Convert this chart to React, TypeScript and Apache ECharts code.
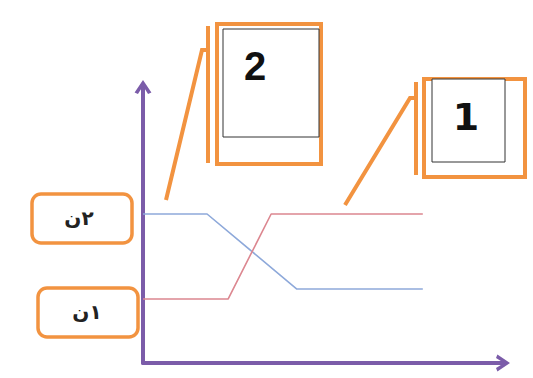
import React, { useEffect, useRef } from "react";
import * as echarts from "echarts";

const blueX = [0, 17.7, 42.5, 77.3];
const blueY = [53.6, 53.6, 26.6, 26.6];
const redX = [0, 23.5, 35.4, 77.3];
const redY = [23, 23, 53.6, 53.6];
const levelLabels = ["ن۲", "ن۱"];
const calloutLabels = ["2", "1"];

const ORANGE = "#F29340";
const PURPLE = "#7B5CA9";
const CHEVRON = "path://M0,9 L6,0 L12,9 L9.6,10 L6,4.2 L2.4,10 Z";

export default function App() {
  const ref = useRef<HTMLDivElement>(null);
  useEffect(() => {
    document.body.style.margin = "0";
    const chart = echarts.init(ref.current!, null, { renderer: "svg" });
    const ltr = (s: string) => "\u202D" + s + "\u202C";
    const axisLine = {
      show: true,
      lineStyle: { color: PURPLE, width: 4 },
      symbol: ["none", CHEVRON],
      symbolSize: [17, 14],
      symbolOffset: [0, -2],
    };
    chart.setOption({
      animation: false,
      backgroundColor: "#ffffff",
      grid: { left: 143, right: 28, top: 85, bottom: 15, containLabel: false, outerBoundsMode: "none" },
      xAxis: {
        type: "value", min: 0, max: 100, axisLine,
        axisTick: { show: false }, axisLabel: { show: false }, splitLine: { show: false },
      },
      yAxis: {
        type: "value", min: 0, max: 100, axisLine,
        axisTick: { show: false }, axisLabel: { show: false }, splitLine: { show: false },
      },
      series: [
        {
          type: "line", data: blueX.map((x, i) => [x, blueY[i]]), showSymbol: false,
          lineStyle: { color: "#8EA9DA", width: 1.6 }, z: 3,
        },
        {
          type: "line", data: redX.map((x, i) => [x, redY[i]]), showSymbol: false,
          lineStyle: { color: "#DC8790", width: 1.6 }, z: 3,
        },
      ],
      graphic: [
        { type: "rect", shape: { x: 32, y: 194, width: 100, height: 49, r: 9 }, style: { fill: "#fff", stroke: ORANGE, lineWidth: 3.5 } },
        { type: "text", x: 79, y: 218, style: { text: ltr(levelLabels[0]), font: "bold 20px 'DejaVu Sans'", fill: "#222", align: "center", verticalAlign: "middle" } },
        { type: "rect", shape: { x: 38, y: 288, width: 100, height: 49, r: 9 }, style: { fill: "#fff", stroke: ORANGE, lineWidth: 3.5 } },
        { type: "text", x: 87, y: 312, style: { text: ltr(levelLabels[1]), font: "bold 20px 'DejaVu Sans'", fill: "#222", align: "center", verticalAlign: "middle" } },

        { type: "rect", shape: { x: 217, y: 24, width: 104, height: 140 }, style: { fill: "none", stroke: ORANGE, lineWidth: 4 } },
        { type: "rect", shape: { x: 223, y: 29, width: 96, height: 108 }, style: { fill: "#fff", stroke: "#333", lineWidth: 1 } },
        { type: "text", x: 255, y: 66, style: { text: calloutLabels[0], font: "bold 40px 'Liberation Sans'", fill: "#111", align: "center", verticalAlign: "middle" } },
        { type: "line", shape: { x1: 208, y1: 26, x2: 208, y2: 163 }, style: { stroke: ORANGE, lineWidth: 4 } },
        { type: "polyline", shape: { points: [[166, 200], [202, 50], [208, 50]] }, style: { stroke: ORANGE, lineWidth: 4, fill: "none" } },

        { type: "rect", shape: { x: 424, y: 79, width: 101, height: 98 }, style: { fill: "none", stroke: ORANGE, lineWidth: 4 } },
        { type: "rect", shape: { x: 432, y: 79, width: 73, height: 83 }, style: { fill: "#fff", stroke: "#333", lineWidth: 1 } },
        { type: "text", x: 466, y: 117, style: { text: calloutLabels[1], font: "bold 38px 'DejaVu Sans'", fill: "#111", align: "center", verticalAlign: "middle" } },
        { type: "line", shape: { x1: 416, y1: 82, x2: 416, y2: 175 }, style: { stroke: ORANGE, lineWidth: 4 } },
        { type: "polyline", shape: { points: [[345, 205], [410, 98], [416, 98]] }, style: { stroke: ORANGE, lineWidth: 4, fill: "none" } },
      ],
    });
    return () => chart.dispose();
  }, []);
  return <div ref={ref} style={{ width: 533, height: 378 }} />;
}
